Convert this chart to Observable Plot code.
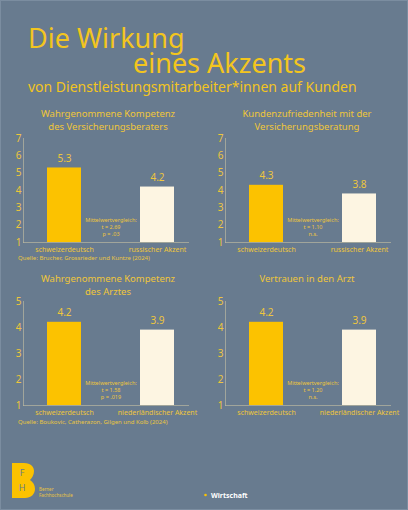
<!DOCTYPE html>
<html>
<head>
<meta charset="utf-8">
<script src="https://cdn.jsdelivr.net/npm/d3@7"></script>
<script src="https://cdn.jsdelivr.net/npm/@observablehq/plot@0.6"></script>
<style>
  html, body { margin: 0; padding: 0; }
  body { width: 408px; height: 510px; overflow: hidden; }
  #page { position: relative; width: 406px; height: 508px; background: #687b8f; border: 1px solid #7b8da0; font-family: "Noto Sans", sans-serif; color: #f3c51e; }
  .abs { position: absolute; white-space: nowrap; line-height: 1; }
  .big { font-size: 27px; line-height: 0.8; }
  .ptitle { position: absolute; transform: translateX(-50%); text-align: center; font-size: 9.5px; line-height: 13px; white-space: nowrap; color: #efc63a; }
  .src { position: absolute; font-size: 6px; line-height: 1; color: #e9c640; white-space: nowrap; }
  .panel { position: absolute; }
</style>
</head>
<body>
<div id="page">
  <div class="abs big" style="left:27px; top:26px;">Die Wirkung</div>
  <div class="abs big" style="left:132px; top:51px;">eines Akzents</div>
  <div class="abs" style="left:27px; top:79px; font-size:14px;">von Dienstleistungsmitarbeiter*innen auf Kunden</div>
  <div id="t1" class="ptitle" style="left:107px; top:106px;"></div>
  <div id="t2" class="ptitle" style="left:306px; top:106px;"></div>
  <div id="t3" class="ptitle" style="left:107px; top:271px;"></div>
  <div id="t4" class="ptitle" style="left:306px; top:271px;"></div>
  <div id="p1" class="panel" style="left:0px; top:130px;"></div>
  <div id="p2" class="panel" style="left:202px; top:130px;"></div>
  <div id="p3" class="panel" style="left:0px; top:293px;"></div>
  <div id="p4" class="panel" style="left:202px; top:293px;"></div>
  <div id="s1" class="src" style="left:17px; top:254px;"></div>
  <div id="s3" class="src" style="left:17px; top:418px;"></div>
  <svg style="position:absolute; left:0; top:0;" width="408" height="510">
    <path d="M11 462 H23 C30 462 33 466 33 470 C33 474 31 477 29 479 C32 481 34 484 34 488 C34 493 30 497 24 497 H11 Z" fill="#fcc200"/>
    <text x="21" y="475" font-size="9" fill="#687b8f" text-anchor="middle" font-family="Noto Sans">F</text>
    <text x="21" y="490" font-size="9" fill="#687b8f" text-anchor="middle" font-family="Noto Sans">H</text>
    <text x="38" y="490" font-size="4.5" fill="#e9c640" font-family="Noto Sans">Berner</text>
    <text x="38" y="495.5" font-size="4.5" fill="#e9c640" font-family="Noto Sans">Fachhochschule</text>
    <circle cx="204.5" cy="494" r="1.3" fill="#fcc200"/>
    <text x="210" y="496.5" font-size="7" fill="#ffffff" font-weight="bold" font-family="Noto Sans">Wirtschaft</text>
  </svg>
</div>
<script>
// ---- data ----
const categoriesVersicherung = ["schweizerdeutsch", "russischer Akzent"];
const categoriesArzt = ["schweizerdeutsch", "niederländischer Akzent"];
const kompetenzBerater = [5.3, 4.2];
const zufriedenheitBeratung = [4.3, 3.8];
const kompetenzArzt = [4.2, 3.9];
const vertrauenArzt = [4.2, 3.9];
const ticksTop = [1, 2, 3, 4, 5, 6, 7];
const ticksBottom = [1, 2, 3, 4, 5];
const panelTitles = [
  "Wahrgenommene Kompetenz<br>des Versicherungsberaters",
  "Kundenzufriedenheit mit der<br>Versicherungsberatung",
  "Wahrgenommene Kompetenz<br>des Arztes",
  "Vertrauen in den Arzt"
];
const annotations = [
  "Mittelwertvergleich:\nt = 2.69\np = .03",
  "Mittelwertvergleich:\nt = 1.10\nn.s.",
  "Mittelwertvergleich:\nt = 1.58\np = .019",
  "Mittelwertvergleich:\nt = 1.20\nn.s."
];
const sources = [
  "Quelle: Brucher, Grossrieder und Kuntze (2024)",
  "Quelle: Boukovic, Catherazon, Gilgen und Kolb (2024)"
];

const yellow = "#fcc200";
const cream = "#fdf5e2";
const textColor = "#eec63c";
const axisColor = "#b9b8a0";

function panel(cats, vals, ticks, note) {
  const data = cats.map((c, i) => ({c, v: vals[i]}));
  return Plot.plot({
    width: 204,
    height: 135,
    marginLeft: 22,
    marginRight: 17,
    marginTop: 7,
    marginBottom: 24,
    style: {background: "transparent", color: textColor, fontFamily: "Noto Sans", overflow: "visible"},
    x: {domain: cats, paddingInner: 0.634, paddingOuter: 0.204, align: 0.63, axis: null},
    y: {domain: [1, ticks[ticks.length - 1]], axis: null},
    color: {domain: cats, range: [yellow, cream]},
    marks: [
      Plot.frame({anchor: "left", stroke: axisColor, strokeOpacity: 0.7}),
      Plot.frame({anchor: "bottom", stroke: axisColor, strokeOpacity: 0.7}),
      Plot.barY(data, {x: "c", y1: 1, y2: "v", fill: "c"}),
      Plot.text(data, {x: "c", y: "v", text: d => d.v.toFixed(1), dy: -9.5, fontSize: 10, fill: textColor}),
      Plot.text([note], {frameAnchor: "bottom", dx: 5, dy: -6.5, lineAnchor: "bottom", fontSize: 5.5, lineHeight: 1.27, fill: textColor}),
      Plot.axisX({tickSize: 0, tickPadding: 5, fontSize: 7, label: null}),
      Plot.axisY({ticks, tickSize: 0, tickPadding: 2, fontSize: 10, label: null, tickFormat: d => d})
    ]
  });
}

document.getElementById("p1").append(panel(categoriesVersicherung, kompetenzBerater, ticksTop, annotations[0]));
document.getElementById("p2").append(panel(categoriesVersicherung, zufriedenheitBeratung, ticksTop, annotations[1]));
document.getElementById("p3").append(panel(categoriesArzt, kompetenzArzt, ticksBottom, annotations[2]));
document.getElementById("p4").append(panel(categoriesArzt, vertrauenArzt, ticksBottom, annotations[3]));
["t1", "t2", "t3", "t4"].forEach((id, i) => document.getElementById(id).innerHTML = panelTitles[i]);
document.getElementById("s1").textContent = sources[0];
document.getElementById("s3").textContent = sources[1];
</script>
</body>
</html>
